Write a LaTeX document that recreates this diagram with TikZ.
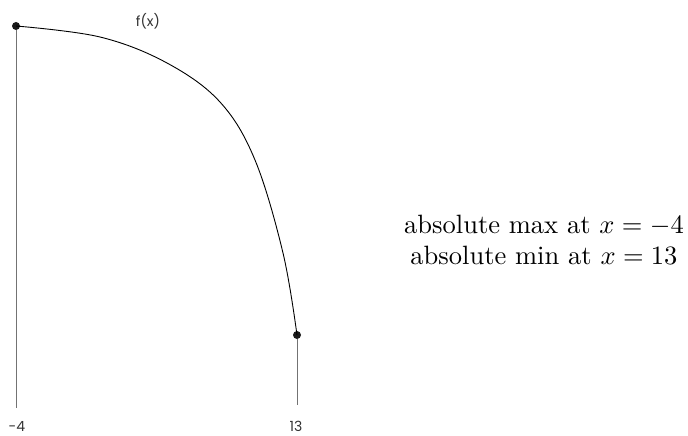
\documentclass[tikz,border=0pt]{standalone}
\usepackage{fontspec}
\newfontfamily\labelfont{Poppins}
\begin{document}
\begin{tikzpicture}[x=1pt,y=-1pt,
  dot/.style={circle,fill=black!90,inner sep=0pt,minimum size=8pt},
  guide/.style={draw=black!55,line width=0.6pt},
  curveline/.style={draw=black,line width=0.9pt},
  ticklabel/.style={font=\labelfont\fontsize{14}{16}\selectfont,text=black!80,inner sep=0pt},
  note/.style={font=\fontsize{10}{12}\selectfont,align=center,scale=2.65,transform shape}]
\useasboundingbox (0,0) rectangle (688,436);
\node[dot] (pa) at (16,26) {};
\node[dot] (pb) at (297,335) {};
\coordinate (ba) at (16,408);
\coordinate (bb) at (297,405);
\draw[guide] (pa) -- (ba);
\draw[guide] (pb) -- (bb);
\draw[curveline] plot[smooth,tension=0.6] coordinates {(16,26) (100,37) (167,63) (220,102) (255,160) (283,253) (297,335)};
\node[ticklabel] (fx) at (148,21) {f(x)};
\node[ticklabel] (la) at (17,426) {-4};
\node[ticklabel] (lb) at (296,426) {13};
\node[note] (txt) at (544,240) {absolute max at $x=-4$\\absolute min at $x=13$};
\end{tikzpicture}
\end{document}
